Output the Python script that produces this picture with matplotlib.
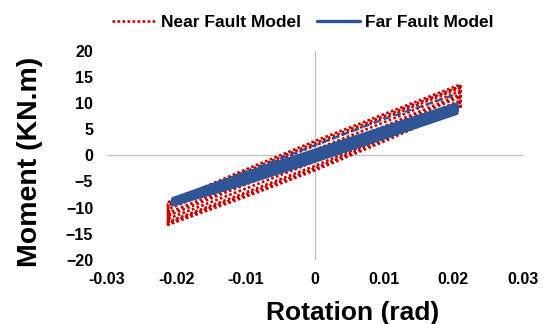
import matplotlib
matplotlib.use('Agg')
import matplotlib.pyplot as plt

plt.rcParams['font.family'] = ['Liberation Sans', 'DejaVu Sans']
plt.rcParams['font.weight'] = 'bold'

# near fault hysteresis - loop vertices (rotation rad, moment kN.m)
near_rot = [-0.0212, -0.0100, 0.0, 0.0100, 0.0210,
            0.0210, 0.0100, 0.0, -0.0100, -0.0212,
            -0.0212, -0.0100, 0.0, 0.0100, 0.0210,
            0.0210, 0.0100, 0.0, -0.0100, -0.0212,
            -0.0212, -0.0100, 0.0, 0.0100, 0.0209,
            0.0209, 0.0100, 0.0, -0.0100, -0.0211,
            -0.0211, -0.0100, 0.0, 0.0100, 0.0208,
            0.0208, 0.0100, 0.0, -0.0100, -0.0210,
            -0.0210, -0.0100, 0.0, 0.0100, 0.0207,
            0.0207, 0.0100, 0.0, -0.0100, -0.0209, -0.0209]
near_mom = [-9.0, -2.75, 2.7, 7.85, 13.5,
            9.0, 2.65, -2.9, -7.95, -13.3,
            -9.3, -3.15, 2.3, 7.45, 13.15,
            9.35, 3.05, -2.5, -7.55, -13.0,
            -9.6, -3.55, 1.85, 7.05, 12.8,
            9.7, 3.45, -2.05, -7.15, -12.7,
            -10.25, -4.3, 1.0, 6.3, 12.15,
            10.35, 4.2, -1.2, -6.4, -12.05,
            -10.9, -5.1, 0.2, 5.5, 11.45,
            11.0, 5.0, -0.4, -5.6, -11.4, -10.9]

# far fault hysteresis - band of loops
far_rot = [-0.0205, -0.0100, 0.0, 0.0100, 0.0205,
           0.0205, 0.0100, 0.0, -0.0100, -0.0205,
           -0.0205, -0.0100, 0.0, 0.0100, 0.0205,
           0.0205, 0.0100, 0.0, -0.0100, -0.0205,
           -0.0205, -0.0100, 0.0, 0.0100, 0.0205,
           0.0205, 0.0100, 0.0, -0.0100, -0.0205]
far_mom = [-8.30, -3.40, 0.95, 5.30, 9.80,
           8.00, 3.30, -1.15, -5.40, -9.50,
           -8.57, -3.85, 0.48, 4.85, 9.40,
           8.40, 3.75, -0.68, -4.95, -9.23,
           -8.84, -4.30, 0.00, 4.40, 8.99,
           8.81, 4.20, -0.20, -4.50, -8.96]

# first far fault cycle (upper branch sits a bit higher)
far0_rot = [-0.0080, 0.0, 0.0100, 0.0203]
far0_mom = [-2.2, 1.9, 6.9, 11.6]

xticks = [-0.03, -0.02, -0.01, 0, 0.01, 0.02, 0.03]
xlabels = ['-0.03', '-0.02', '-0.01', '0', '0.01', '0.02', '0.03']
yticks = [-20, -15, -10, -5, 0, 5, 10, 15, 20]

fig = plt.figure(figsize=(5.49, 3.24), dpi=100)
ax = fig.add_axes([0.195, 0.198, 0.757, 0.646])

ax.axhline(0, color='#BFBFBF', lw=0.9, zorder=0)
ax.axvline(0, color='#BFBFBF', lw=0.9, zorder=0)

ax.plot(near_rot, near_mom, color='#C80000', lw=1.9, ls=(0, (1, 0.9)),
        label='Near Fault Model', zorder=2)
ax.plot(far0_rot, far0_mom, color='#2F5597', lw=1.6, ls=(0, (3, 2)), zorder=3)
ax.plot(far_rot, far_mom, color='#2F5597', lw=2.4, solid_joinstyle='round',
        solid_capstyle='round', label='Far Fault Model', zorder=3)

ax.set_xlim(-0.03, 0.03)
ax.set_ylim(-20, 20)
ax.set_xticks(xticks)
ax.set_xticklabels(xlabels)
ax.set_yticks(yticks)
for s in ax.spines.values():
    s.set_visible(False)
ax.tick_params(length=0, labelsize=11.5)
ax.tick_params(axis='y', pad=10)
ax.tick_params(axis='x', pad=9)

fig.text(0.643, 0.034, 'Rotation (rad)', fontsize=19, fontweight='bold',
         ha='center', va='center')
fig.text(0.055, 0.5, 'Moment (KN.m)', fontsize=20.5, fontweight='bold',
         rotation=90, ha='center', va='center')

fig.legend(loc='center', bbox_to_anchor=(0.552, 0.932), ncol=2, frameon=False,
           fontsize=12.5, handlelength=2.5, handletextpad=0.3, columnspacing=0.9,
           borderpad=0)

fig.savefig('out.png', dpi=100)
